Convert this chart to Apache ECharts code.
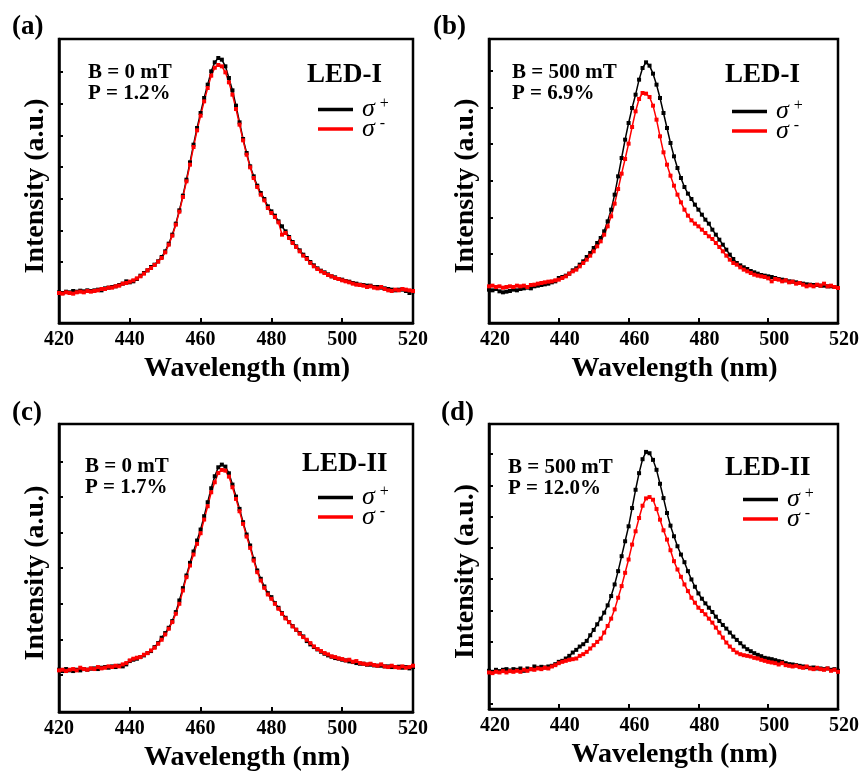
<!DOCTYPE html>
<html>
<head>
<meta charset="utf-8">
<script src="https://cdn.jsdelivr.net/npm/echarts@6/dist/echarts.min.js"></script>
<style>
  html, body { margin: 0; padding: 0; background: #fff; }
  #chart { width: 862px; height: 773px; }
</style>
</head>
<body>
<div id="chart"></div>
<script>
// wavelength grid (nm)
const wavelength = [
  420, 421, 422, 423, 424, 425, 426, 427, 428, 429,
  430, 431, 432, 433, 434, 435, 436, 437, 438, 439,
  440, 441, 442, 443, 444, 445, 446, 447, 448, 449,
  450, 451, 452, 453, 454, 455, 456, 457, 458, 459,
  460, 461, 462, 463, 464, 465, 466, 467, 468, 469,
  470, 471, 472, 473, 474, 475, 476, 477, 478, 479,
  480, 481, 482, 483, 484, 485, 486, 487, 488, 489,
  490, 491, 492, 493, 494, 495, 496, 497, 498, 499,
  500, 501, 502, 503, 504, 505, 506, 507, 508, 509,
  510, 511, 512, 513, 514, 515, 516, 517, 518, 519,
  520
]
const xTicks = [420, 440, 460, 480, 500, 520]

// (a) LED-I, B = 0 mT
const aPlus = [
  92, 90, 94, 92, 96, 94, 97, 95, 98, 96,
  98, 100, 98, 104, 106, 108, 110, 114, 118, 125,
  122, 125, 132, 142, 150, 158, 168, 175, 185, 198,
  215, 238, 265, 298, 338, 382, 430, 482, 535, 585,
  630, 675, 715, 755, 782, 795, 790, 770, 735, 698,
  652, 602, 552, 510, 470, 440, 412, 390, 372, 350,
  335, 322, 305, 290, 275, 258, 243, 230, 218, 205,
  195, 183, 173, 164, 157, 152, 146, 140, 137, 132,
  130, 126, 124, 120, 118, 115, 114, 112, 112, 108,
  108, 106, 104, 102, 100, 98, 100, 100, 96, 90,
  95
]
const aMinus = [
  90, 88, 92, 90, 88, 92, 94, 92, 96, 94,
  96, 98, 102, 102, 106, 106, 110, 112, 118, 120,
  124, 128, 134, 140, 148, 158, 165, 174, 184, 195,
  212, 235, 262, 295, 334, 378, 425, 475, 528, 578,
  622, 665, 705, 742, 766, 774, 770, 752, 722, 685,
  642, 595, 548, 505, 467, 435, 408, 385, 368, 345,
  330, 318, 302, 265, 270, 255, 240, 228, 215, 202,
  192, 180, 170, 162, 155, 150, 144, 140, 135, 132,
  128, 125, 122, 118, 115, 114, 112, 108, 110, 106,
  104, 108, 102, 98, 96, 100, 98, 102, 100, 98,
  96
]
const aTicks = [88, 183, 278, 373, 468, 563, 658, 753]

// (b) LED-I, B = 500 mT
const bPlus = [
  100, 98, 102, 95, 92, 94, 96, 100, 98, 102,
  104, 106, 104, 110, 112, 114, 116, 118, 122, 125,
  135, 138, 142, 148, 158, 164, 175, 185, 198, 210,
  225, 240, 255, 275, 305, 340, 385, 440, 495, 550,
  600, 645, 685, 730, 765, 782, 772, 748, 715, 675,
  630, 585, 540, 500, 465, 435, 408, 388, 372, 355,
  340, 325, 310, 298, 280, 265, 250, 235, 220, 205,
  192, 180, 173, 167, 162, 156, 152, 148, 144, 142,
  140, 138, 135, 132, 130, 128, 125, 124, 122, 120,
  118, 116, 115, 114, 114, 112, 112, 110, 110, 108,
  105
]
const bMinus = [
  110, 112, 108, 110, 106, 108, 110, 108, 112, 110,
  112, 108, 114, 115, 118, 120, 122, 124, 125, 128,
  130, 135, 140, 148, 155, 160, 170, 180, 190, 202,
  215, 230, 245, 265, 290, 320, 358, 402, 448, 492,
  538, 588, 635, 672, 690, 688, 678, 652, 610, 560,
  512, 475, 442, 412, 385, 362, 340, 322, 308, 298,
  290, 280, 270, 260, 252, 240, 228, 215, 202, 190,
  180, 175, 167, 160, 155, 150, 145, 142, 140, 138,
  134, 125, 132, 130, 125, 128, 122, 124, 118, 120,
  115, 110, 113, 110, 115, 112, 118, 110, 112, 108,
  105
]
const bTicks = [97, 207, 317, 427, 537, 647, 757]

// (c) LED-II, B = 0 mT
const cPlus = [
  127, 123, 129, 125, 123, 127, 125, 129, 127, 130,
  131, 129, 133, 135, 133, 137, 135, 139, 137, 143,
  153, 157, 160, 165, 170, 177, 183, 195, 207, 223,
  237, 253, 273, 300, 335, 372, 410, 448, 482, 515,
  548, 588, 630, 672, 708, 735, 743, 737, 717, 683,
  647, 610, 570, 533, 500, 460, 425, 400, 377, 357,
  345, 327, 313, 297, 283, 270, 258, 247, 237, 227,
  213, 203, 195, 188, 181, 175, 170, 166, 162, 160,
  157, 155, 152, 150, 147, 145, 145, 142, 142, 140,
  139, 139, 137, 137, 135, 135, 136, 133, 135, 131,
  135
]
const cMinus = [
  125, 127, 123, 127, 129, 125, 133, 129, 127, 131,
  129, 135, 131, 133, 137, 135, 139, 137, 143, 147,
  155, 160, 163, 165, 172, 177, 185, 193, 205, 217,
  233, 250, 270, 295, 325, 365, 405, 440, 473, 505,
  537, 578, 618, 660, 690, 718, 727, 725, 707, 675,
  640, 603, 565, 527, 493, 455, 420, 395, 373, 353,
  340, 325, 310, 295, 281, 270, 257, 247, 235, 225,
  217, 207, 197, 189, 183, 177, 173, 167, 165, 161,
  159, 155, 157, 151, 153, 147, 145, 143, 145, 141,
  139, 143, 137, 135, 139, 135, 133, 137, 133, 135,
  139
]
const cTicks = [112, 218, 325, 432, 538, 645, 752]

// (d) LED-II, B = 500 mT
const dPlus = [
  115, 112, 118, 114, 118, 120, 116, 120, 118, 122,
  115, 122, 120, 128, 124, 127, 125, 128, 130, 135,
  142, 145, 152, 160, 170, 178, 188, 195, 205, 222,
  238, 255, 272, 290, 312, 340, 375, 415, 460, 505,
  550, 605, 660, 710, 752, 774, 770, 750, 720, 678,
  635, 590, 552, 520, 490, 465, 442, 415, 390, 368,
  348, 332, 318, 305, 292, 278, 265, 253, 242, 230,
  218, 208, 198, 188, 180, 174, 168, 163, 159, 154,
  152, 150, 147, 144, 142, 138, 135, 134, 132, 130,
  128, 126, 124, 125, 122, 122, 120, 122, 118, 120,
  115
]
const dMinus = [
  110, 108, 112, 110, 114, 110, 114, 112, 115, 112,
  118, 115, 120, 118, 122, 120, 124, 122, 128, 132,
  138, 142, 145, 148, 150, 152, 160, 165, 172, 182,
  192, 202, 212, 230, 250, 272, 300, 335, 370, 410,
  450, 495, 535, 575, 612, 634, 638, 630, 602, 570,
  538, 510, 478, 445, 420, 398, 375, 355, 335, 320,
  305, 295, 285, 272, 260, 245, 230, 215, 200, 188,
  178, 170, 165, 162, 160, 158, 154, 152, 148, 145,
  142, 140, 138, 134, 138, 132, 130, 128, 130, 126,
  124, 128, 122, 120, 124, 120, 118, 122, 115, 118,
  112
]
const dTicks = [15, 109, 203, 297, 391, 485, 579, 673, 767]

const panels = [
  { tag: '(a)', plus: aPlus, minus: aMinus, yMax: 852, yTicks: aTicks, note: 'B = 0 mT\nP = 1.2%', led: 'LED-I' },
  { tag: '(b)', plus: bPlus, minus: bMinus, yMax: 852, yTicks: bTicks, note: 'B = 500 mT\nP = 6.9%', led: 'LED-I' },
  { tag: '(c)', plus: cPlus, minus: cMinus, yMax: 865, yTicks: cTicks, note: 'B = 0 mT\nP = 1.7%', led: 'LED-II' },
  { tag: '(d)', plus: dPlus, minus: dMinus, yMax: 858, yTicks: dTicks, note: 'B = 500 mT\nP = 12.0%', led: 'LED-II' }
]

// pixel layout of each panel
const layout = [
  { grid: [59, 39, 354, 284], tag: [12, 14], note: [88, 62], led: [307, 62], legend: [318, 96] },
  { grid: [489, 39, 354, 284], tag: [433, 14], note: [512, 62], led: [725, 62], legend: [732, 98] },
  { grid: [59, 424, 354, 288], tag: [12, 400], note: [85, 456], led: [302, 451], legend: [318, 484] },
  { grid: [489, 424, 354, 285], tag: [441, 400], note: [508, 457], led: [725, 455], legend: [743, 486] }
]

const serif = '"Liberation Serif", "Times New Roman", serif'
const black = '#000000'
const red = '#ff0000'

const chart = echarts.init(document.getElementById('chart'))

const grid = [], xAxis = [], yAxis = [], series = [], legend = [], graphic = []

panels.forEach((p, i) => {
  const L = layout[i]
  grid.push({
    left: L.grid[0], top: L.grid[1], width: L.grid[2], height: L.grid[3],
    show: true, borderColor: black, borderWidth: 2.5, backgroundColor: 'transparent'
  })
  xAxis.push({
    gridIndex: i, type: 'value', min: xTicks[0], max: xTicks[xTicks.length - 1], interval: 20,
    axisLine: { show: true, onZero: false, lineStyle: { color: black, width: 2.5 } },
    axisTick: { show: true, inside: true, length: 5, lineStyle: { color: black, width: 2 } },
    axisLabel: {
      color: black, fontFamily: serif, fontWeight: 'bold', fontSize: 20, margin: 7,
      padding: i % 2 ? [0, 0, 0, 12] : 0
    },
    splitLine: { show: false },
    name: 'Wavelength (nm)', nameLocation: 'middle', nameGap: 32,
    nameTextStyle: { color: black, fontFamily: serif, fontWeight: 'bold', fontSize: 28, padding: [0, 0, 0, 22] }
  })
  yAxis.push({
    gridIndex: i, type: 'value', min: 0, max: p.yMax,
    axisLine: { show: true, onZero: false, lineStyle: { color: black, width: 2.5 } },
    axisTick: { show: true, inside: true, length: 4, customValues: p.yTicks, lineStyle: { color: black, width: 2 } },
    axisLabel: { show: false },
    splitLine: { show: false },
    name: 'Intensity (a.u.)', nameLocation: 'middle', nameGap: 9,
    nameTextStyle: { color: black, fontFamily: serif, fontWeight: 'bold', fontSize: 28, padding: [0, 10, 0, 0] }
  })
  const mk = (name, vals, color) => ({
    type: 'line', name, xAxisIndex: i, yAxisIndex: i,
    data: wavelength.map((w, k) => [w, vals[k]]),
    symbol: 'rect', symbolSize: 4, showSymbol: true,
    lineStyle: { color, width: 1.5 }, itemStyle: { color },
    emphasis: { disabled: true }
  })
  series.push(mk('σ+', p.plus, black))
  series.push(mk('σ-', p.minus, red))
  legend.push({
    data: ['σ+', 'σ-'], orient: 'vertical', left: L.legend[0], top: L.legend[1],
    padding: 0, itemGap: -7, itemWidth: 35, itemHeight: 3.5, icon: 'rect',
    selectedMode: false,
    formatter: name => '{s|σ}{p|' + name.slice(1) + '}',
    textStyle: {
      rich: {
        s: { fontFamily: serif, fontStyle: 'italic', fontSize: 26, color: black, padding: [0, 0, 0, 4] },
        p: { fontFamily: serif, fontSize: 16, color: black, padding: [0, 0, 11, 5] }
      }
    }
  })
  graphic.push({
    type: 'text', left: L.tag[0], top: L.tag[1],
    style: { text: p.tag, fill: black, fontFamily: serif, fontWeight: 'bold', fontSize: 27 }
  })
  graphic.push({
    type: 'text', left: L.note[0], top: L.note[1],
    style: { text: p.note, fill: black, fontFamily: serif, fontWeight: 'bold', fontSize: 21, lineHeight: 21 }
  })
  graphic.push({
    type: 'text', left: L.led[0], top: L.led[1],
    style: { text: p.led, fill: black, fontFamily: serif, fontWeight: 'bold', fontSize: 27 }
  })
})

chart.setOption({
  animation: false,
  backgroundColor: '#ffffff',
  grid, xAxis, yAxis, series, legend, graphic
})
</script>
</body>
</html>
